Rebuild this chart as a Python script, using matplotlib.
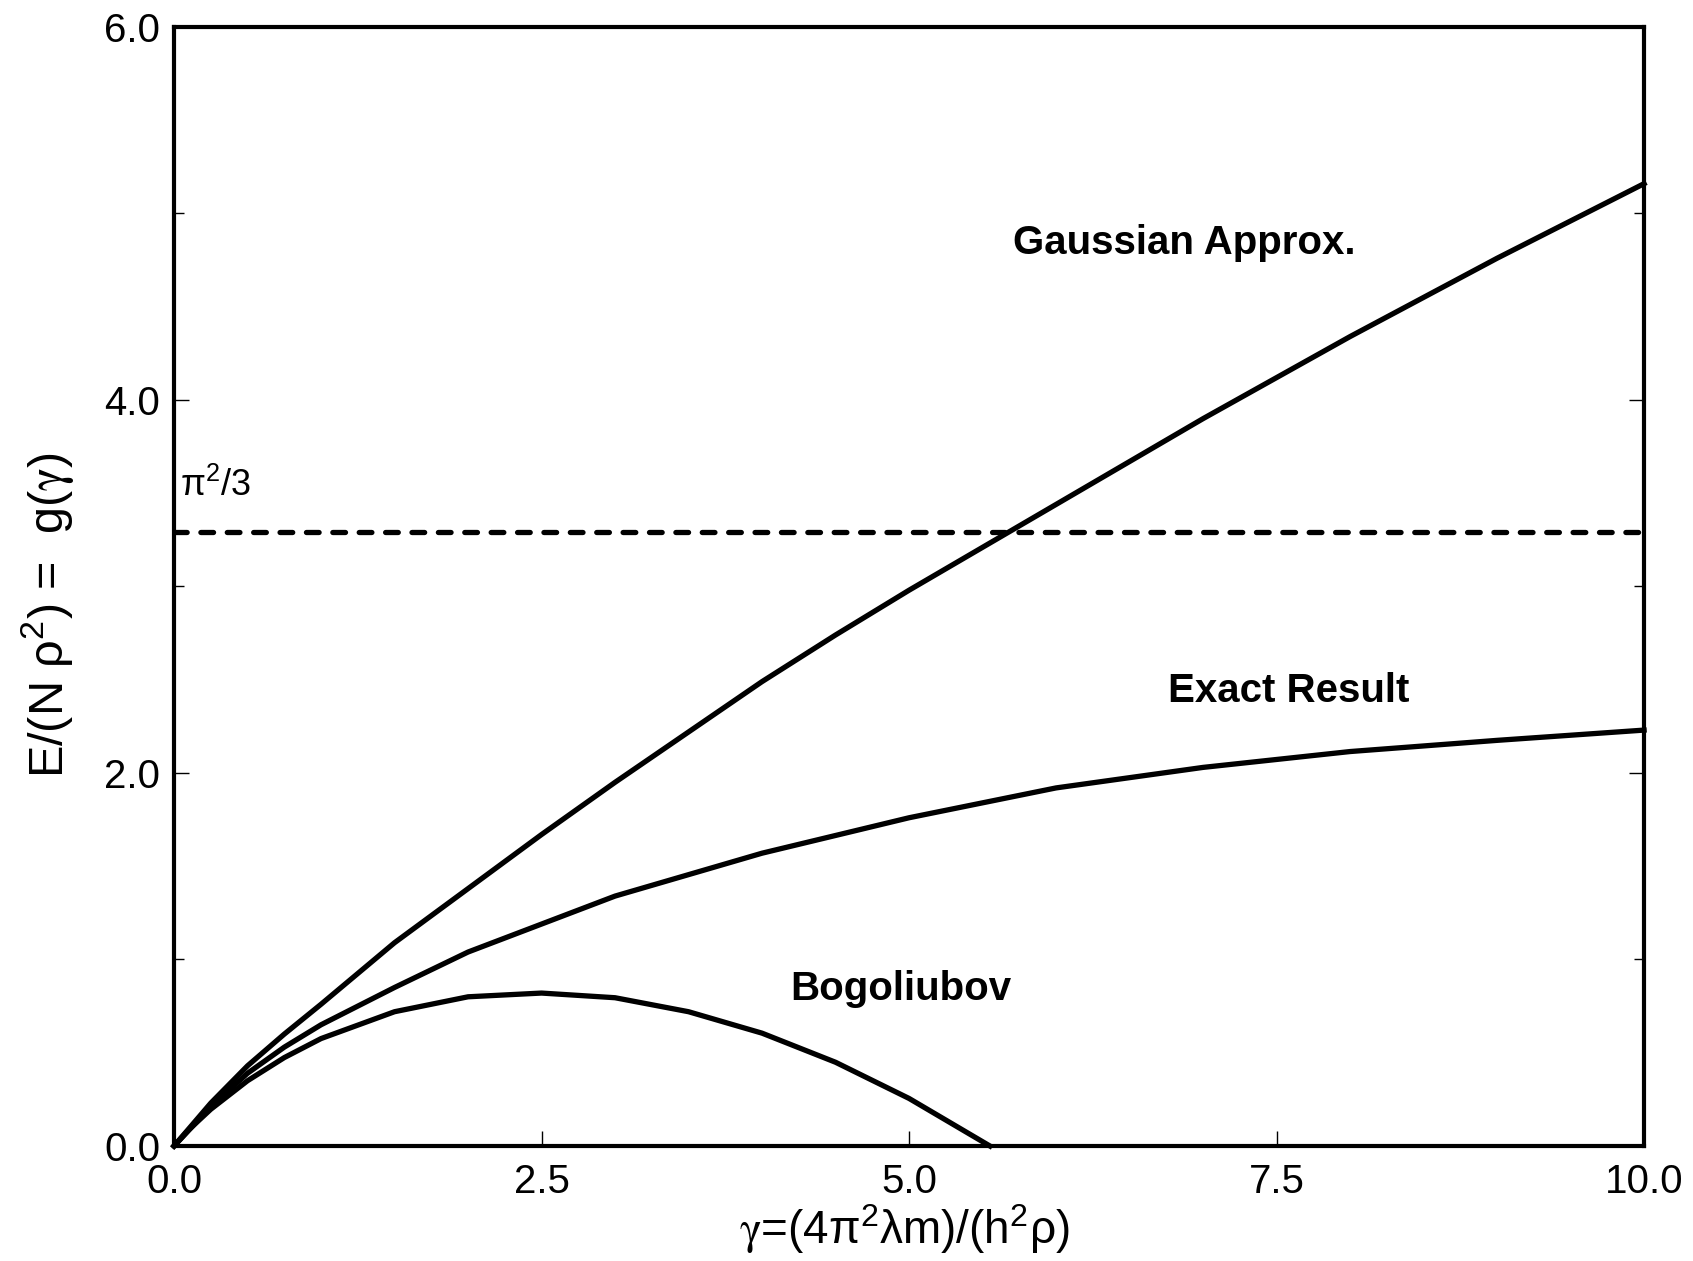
import matplotlib
matplotlib.use("Agg")
import matplotlib.pyplot as plt
from matplotlib.ticker import FixedLocator

plt.rcParams['font.family'] = ['Liberation Sans', 'DejaVu Sans']
plt.rcParams['mathtext.fontset'] = 'custom'
plt.rcParams['mathtext.rm'] = 'Liberation Sans'
plt.rcParams['mathtext.sf'] = 'STIXGeneral'
plt.rcParams['mathtext.it'] = 'Liberation Sans'
plt.rcParams['mathtext.bf'] = 'Liberation Sans:bold'

# ---- data ----
gauss_x = [0, 0.25, 0.5, 0.75, 1.0, 1.5, 2.0, 2.5, 3.0, 3.5, 4.0, 4.5, 5.0, 5.5, 6.0,
           6.5, 7.0, 7.5, 8.0, 8.5, 9.0, 9.5, 10.0]
gauss_y = [0, 0.23, 0.43, 0.60, 0.76, 1.09, 1.38, 1.67, 1.95, 2.22, 2.49, 2.74, 2.98, 3.21, 3.44,
           3.67, 3.90, 4.12, 4.34, 4.55, 4.76, 4.96, 5.16]

exact_x = [0, 0.25, 0.5, 0.75, 1.0, 1.5, 2.0, 3.0, 4.0, 5.0, 6.0, 7.0, 8.0, 9.0, 10.0]
exact_y = [0, 0.21, 0.39, 0.53, 0.65, 0.85, 1.04, 1.34, 1.57, 1.76, 1.92, 2.03, 2.115, 2.175, 2.23]

bogo_x = [0, 0.1, 0.25, 0.5, 0.75, 1.0, 1.5, 2.0, 2.5, 3.0, 3.5, 4.0, 4.5, 5.0, 5.55]
bogo_y = [0, 0.087, 0.197, 0.35, 0.474, 0.576, 0.72, 0.80, 0.82, 0.795, 0.72, 0.605, 0.449, 0.255, 0.0]

tg_x = [0.0, 10.0]
tg_level = 3.29  # pi^2/3

xticks = [0.0, 2.5, 5.0, 7.5, 10.0]
xtick_labels = ["0.0", "2.5", "5.0", "7.5", "10.0"]
yticks = [0.0, 2.0, 4.0, 6.0]
ytick_labels = ["0.0", "2.0", "4.0", "6.0"]
yminor = [1.0, 3.0, 5.0]

# ---- figure ----
fig = plt.figure(figsize=(16.93, 12.61), dpi=100)
ax = fig.add_axes([0.1028, 0.0912, 0.8683, 0.8874])

lw = 3.8
ax.plot(gauss_x, gauss_y, color='black', lw=lw, solid_joinstyle='round', clip_on=False)
ax.plot(exact_x, exact_y, color='black', lw=lw, solid_joinstyle='round', clip_on=False)
ax.plot(bogo_x, bogo_y, color='black', lw=lw, solid_joinstyle='round', clip_on=False)
ax.plot(tg_x, [tg_level, tg_level], color='black', lw=3.8, dashes=(2.4, 2.6),
        dash_capstyle='round')

ax.set_xlim(0, 10)
ax.set_ylim(0, 6)

ax.xaxis.set_major_locator(FixedLocator(xticks))
ax.set_xticklabels(xtick_labels)
ax.yaxis.set_major_locator(FixedLocator(yticks))
ax.set_yticklabels(ytick_labels)
ax.yaxis.set_minor_locator(FixedLocator(yminor))

ax.tick_params(axis='both', which='major', direction='in', length=11, width=1.0,
               labelsize=29, colors='black')
ax.tick_params(axis='y', which='both', right=True, direction='in')
ax.tick_params(axis='y', which='minor', length=7, width=1.0)
ax.tick_params(axis='x', which='major', pad=12)
ax.tick_params(axis='y', which='major', pad=10)

for sp in ax.spines.values():
    sp.set_linewidth(3.0)

ax.set_xlabel("$\\mathsf{\\gamma}$=(4π$^2$λm)/(h$^2$ρ)", fontsize=33)
ax.set_ylabel("E/(N ρ$^2$) =  g($\\mathsf{\\gamma}$)", fontsize=35)
ax.xaxis.set_label_coords(0.497, -0.050)
ax.yaxis.set_label_coords(-0.067, 0.4745)

ax.text(5.71, 4.84, "Gaussian Approx.", fontsize=29, fontweight='bold', ha='left', va='center')
ax.text(6.76, 2.44, "Exact Result", fontsize=29, fontweight='bold', ha='left', va='center')
ax.text(4.19, 0.84, "Bogoliubov", fontsize=29, fontweight='bold', ha='left', va='center')
ax.text(0.04, 3.54, "π$^2$/3", fontsize=26, ha='left', va='center')

fig.savefig("out.png", dpi=100)
